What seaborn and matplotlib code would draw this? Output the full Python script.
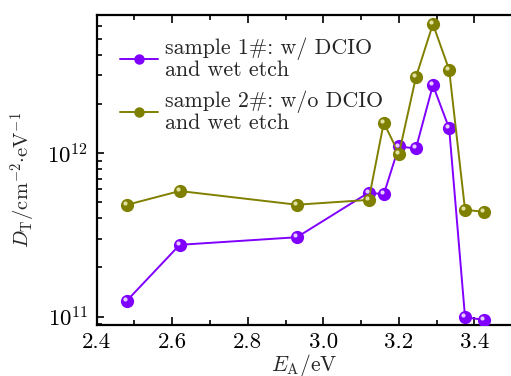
import numpy as np
import pandas as pd
import matplotlib
matplotlib.use("Agg")
import matplotlib.pyplot as plt
import matplotlib.transforms as mtransforms
from matplotlib.lines import Line2D
from matplotlib.ticker import LogLocator, MultipleLocator, NullFormatter, FormatStrFormatter
import seaborn as sns

# Trap density vs activation energy
ea_s1 = [2.48, 2.62, 2.93, 3.12, 3.16, 3.20, 3.245, 3.29, 3.333, 3.375, 3.426]
dt_s1 = [1.25e11, 2.75e11, 3.06e11, 5.74e11, 5.61e11, 1.10e12, 1.07e12, 2.61e12, 1.42e12, 0.99e11, 0.955e11]

ea_s2 = [2.48, 2.62, 2.93, 3.12, 3.16, 3.20, 3.245, 3.29, 3.333, 3.375, 3.426]
dt_s2 = [4.83e11, 5.87e11, 4.84e11, 5.18e11, 1.54e12, 0.99e12, 2.92e12, 6.18e12, 3.24e12, 4.50e11, 4.38e11]

labels = ["sample 1#: w/ DCIO\nand wet etch", "sample 2#: w/o DCIO\nand wet etch"]
colors = ["#8000ff", "#808000"]
highlights = ["#e6ccff", "#e0e0a0"]

sns.set_theme(style="ticks")
plt.rcParams["font.family"] = ["cmr10"]
plt.rcParams["mathtext.fontset"] = "cm"
plt.rcParams["axes.unicode_minus"] = False
plt.rcParams["axes.formatter.use_mathtext"] = True

df = pd.concat([
    pd.DataFrame({"EA": ea_s1, "DT": dt_s1, "sample": labels[0]}),
    pd.DataFrame({"EA": ea_s2, "DT": dt_s2, "sample": labels[1]}),
])

fig = plt.figure(figsize=(5.11, 3.76), dpi=100)
ax = fig.add_axes([0.189, 0.135, 0.8135, 0.825])

sns.lineplot(data=df, x="EA", y="DT", hue="sample", palette=colors,
             marker="o", markersize=9.5, markeredgewidth=0, linewidth=1.4,
             sort=False, ax=ax, legend=False, zorder=3)

# specular spot on each ball marker
shift = mtransforms.ScaledTranslation(-1.4 / 72, 1.4 / 72, fig.dpi_scale_trans)
for xs, ys, hc in [(ea_s1, dt_s1, highlights[0]), (ea_s2, dt_s2, highlights[1])]:
    ax.plot(xs, ys, linestyle="none", marker="o", markersize=3,
            markeredgewidth=0, color=hc, transform=ax.transData + shift, zorder=4)

ax.set_yscale("log")
ax.set_xlim(2.4, 3.5)
ax.set_ylim(10 ** 10.947, 10 ** 12.846)

ax.xaxis.set_major_locator(MultipleLocator(0.2))
ax.xaxis.set_minor_locator(MultipleLocator(0.1))
ax.xaxis.set_major_formatter(FormatStrFormatter("%.1f"))
ax.yaxis.set_major_locator(LogLocator(base=10, numticks=10))
ax.yaxis.set_minor_locator(LogLocator(base=10, subs=np.arange(2, 10), numticks=20))
ax.yaxis.set_minor_formatter(NullFormatter())

ax.tick_params(axis="both", which="both", direction="in", top=True, right=False,
               labelsize=16.5, width=1.2, colors="black")
ax.tick_params(axis="x", which="major", length=6, pad=5)
ax.tick_params(axis="y", which="major", length=5, pad=6)
ax.tick_params(which="minor", length=3.5)
for sp in ax.spines.values():
    sp.set_linewidth(1.6)
    sp.set_color("black")

ax.set_xlabel(r"$E_\mathrm{A}$/eV", fontsize=15.5, labelpad=0)
ax.set_ylabel(r"$D_\mathrm{T}$/cm$^{-2}$$\cdot$eV$^{-1}$", fontsize=14.8)
ax.yaxis.set_label_coords(-0.142, 0.47)

handles = [Line2D([], [], color=c, marker="o", markersize=7.5, markeredgewidth=0, linewidth=1.4)
           for c in colors]
leg = ax.legend(handles, labels, loc="upper left", bbox_to_anchor=(0.035, 0.955),
                frameon=False, fontsize=15.8, handlelength=1.75, handletextpad=0.3,
                labelspacing=0.5, borderaxespad=0)
for t in leg.get_texts():
    t.set_linespacing(1.0)

fig.savefig("out.png", dpi=100)
